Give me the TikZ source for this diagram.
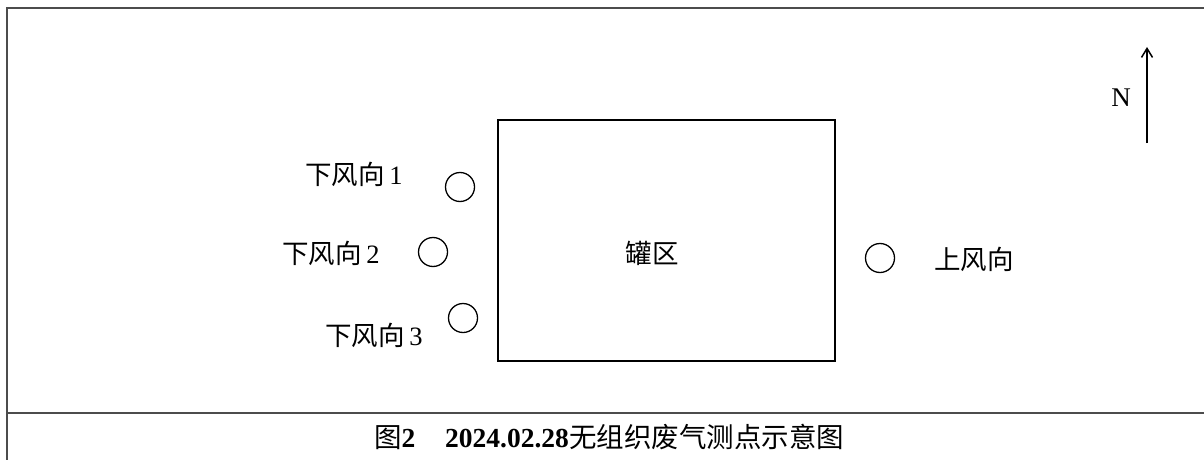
\documentclass[tikz,border=0pt]{standalone}
\usepackage{fontspec}
\setmainfont{Liberation Serif}
\newfontfamily\cjk{Noto Sans CJK SC}
\usetikzlibrary{arrows.meta}
\begin{document}
\begin{tikzpicture}[x=1pt,y=-1pt,
  frameline/.style={line width=1.4pt, draw=black!70},
  lbl/.style={font=\fontsize{26.5}{28}\selectfont, inner sep=0pt, anchor=center},
  captext/.style={font=\fontsize{27.5}{30}\selectfont, inner sep=0pt, anchor=center},
  spot/.style={circle, draw=black, line width=1.3pt, minimum size=29pt, inner sep=0pt},
  tank/.style={draw=black, line width=1.5pt, minimum width=337pt, minimum height=241pt, inner sep=0pt}]
\useasboundingbox (0,0) rectangle (1204,460);
% frame
\coordinate (tl) at (7,8);
\coordinate (tr) at (1204,8);
\coordinate (bl) at (7,460);
\coordinate (ml) at (7,413);
\coordinate (mr) at (1204,413);
\draw[frameline] (bl) -- (tl) -- (tr);
\draw[frameline] (ml) -- (mr);
% tank area
\node[tank] (tankbox) at (666.5,240.5) {};
\node[lbl] (tanklabel) at (652,253) {\cjk 罐区};
% sampling points
\node[spot] (d1) at (460,187) {};
\node[spot] (d2) at (433,252) {};
\node[spot] (d3) at (463,318) {};
\node[spot] (up) at (880,258) {};
\node[lbl] (d1l) at (354,174) {{\cjk 下风向}\,1};
\node[lbl] (d2l) at (331,253) {{\cjk 下风向}\,2};
\node[lbl] (d3l) at (374,335) {{\cjk 下风向}\,3};
\node[lbl] (upl) at (974,259) {\cjk 上风向};
% north arrow
\coordinate (ns) at (1147,143);
\coordinate (ne) at (1147,47);
\draw[line width=1.5pt, -{Straight Barb[length=9pt,width=11pt]}] (ns) -- (ne);
\node[lbl, font=\fontsize{27}{29}\selectfont] (nl) at (1121,98) {N};
% caption
\node[captext] (caption) at (609,437) {{\cjk 图}\textbf{2}\hspace{30pt}\textbf{2024.02.28}{\cjk 无组织废气测点示意图}};
\end{tikzpicture}
\end{document}
